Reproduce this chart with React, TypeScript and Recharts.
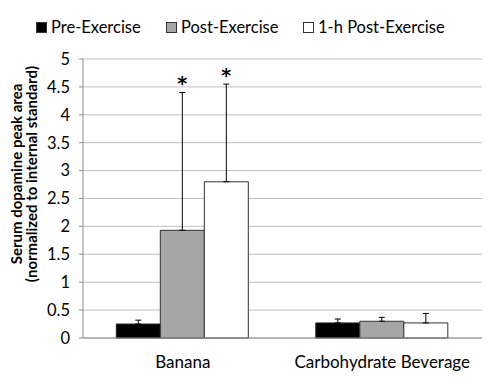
import { Bar, BarChart, CartesianGrid, ErrorBar, Legend, Rectangle, XAxis, YAxis } from "recharts";

const groups = ["Banana", "Carbohydrate Beverage"];
const seriesNames = ["Pre-Exercise", "Post-Exercise", "1-h Post-Exercise"];
const preValues = [0.25, 0.27];
const preErrors = [0.07, 0.07];
const postValues = [1.93, 0.3];
const postErrors = [2.47, 0.07];
const post1hValues = [2.8, 0.27];
const post1hErrors = [1.75, 0.17];
const preStars = ["", ""];
const postStars = ["*", ""];
const post1hStars = ["*", ""];
const yTicks = [0, 0.5, 1, 1.5, 2, 2.5, 3, 3.5, 4, 4.5, 5];

const fills = ["#000000", "#a6a6a6", "#ffffff"];
const legendLeft = [36, 166, 303];
const font = "Lato, 'Open Sans', sans-serif";

const data = groups.map((name, i) => ({
  name,
  pre: preValues[i],
  preErr: [0, preErrors[i]],
  post: postValues[i],
  postErr: [0, postErrors[i]],
  post1h: post1hValues[i],
  post1hErr: [0, post1hErrors[i]],
  preStar: preStars[i],
  postStar: postStars[i],
  post1hStar: post1hStars[i],
  edge: i
}));

// bar with an optional asterisk above the top of its error bar
function starShape(valueKey: string, errKey: string, starKey: string) {
  return (props: any) => {
    const { x, y, width, height, fill, stroke, payload } = props;
    const value = payload[valueKey];
    const err = payload[errKey][1];
    const star = payload[starKey];
    const errTop = value > 0 ? y - (err * height) / value : y;
    return (
      <g>
        <Rectangle x={x} y={y} width={width} height={height} fill={fill} stroke={stroke} strokeWidth={1} />
        {star ? (
          <text
            x={x + width / 2}
            y={errTop - 2}
            textAnchor="middle"
            fontSize={19}
            fontWeight={700}
            fontFamily="'DejaVu Sans', sans-serif"
            fill="#000"
          >
            {star}
          </text>
        ) : null}
      </g>
    );
  };
}

function LegendContent() {
  return (
    <div style={{ position: "relative", fontFamily: font, fontSize: 16.5, color: "#000", height: 20, width: 490 }}>
      {seriesNames.map((name, i) => (
        <div
          key={name}
          style={{ position: "absolute", left: legendLeft[i], top: 0, height: 20, display: "flex", alignItems: "center" }}
        >
          <span
            style={{
              display: "inline-block",
              width: 9,
              height: 9,
              background: fills[i],
              border: "1px solid #333",
              marginRight: 4
            }}
          />
          <span style={{ whiteSpace: "nowrap" }}>{name}</span>
        </div>
      ))}
    </div>
  );
}

function YLabel() {
  return (
    <text transform="translate(27,174) rotate(-90)" textAnchor="middle" fontFamily={font} fontSize={15} fontWeight={700} fill="#000">
      <tspan x={0} dy={-5}>Serum dopamine peak area</tspan>
      <tspan x={0} dy={15}>(normalized to internal standard)</tspan>
    </text>
  );
}

export default function App() {
  return (
    <div style={{ position: "absolute", left: 0, top: 0, width: 490, height: 384, background: "#fff" }}>
      <BarChart
        width={490}
        height={384}
        data={data}
        margin={{ top: 39, right: 8, left: 0, bottom: 0 }}
        barCategoryGap="16.7%"
        barGap={0}
      >
        <CartesianGrid horizontal vertical={false} stroke="#c0c0c0" strokeWidth={1} />
        <XAxis
          dataKey="name"
          xAxisId="cat"
          axisLine={{ stroke: "#8c8c8c" }}
          tickLine={false}
          tick={{ fill: "#000", fontSize: 17, fontFamily: font }}
          tickMargin={12}
          height={46}
          interval={0}
        />
        <XAxis
          dataKey="edge"
          xAxisId="edge"
          type="number"
          domain={[0, 2]}
          ticks={[0, 1, 2]}
          axisLine={false}
          tick={false}
          tickLine={{ stroke: "#8c8c8c" }}
          tickSize={5}
          height={0}
        />
        <YAxis
          domain={[0, 5]}
          ticks={yTicks}
          width={83}
          axisLine={{ stroke: "#8c8c8c" }}
          tickLine={{ stroke: "#8c8c8c" }}
          tickSize={4}
          tickMargin={9}
          tick={{ fill: "#000", fontSize: 16.5, fontFamily: font }}
          label={{ content: <YLabel /> }}
        />
        <Legend verticalAlign="top" align="left" content={<LegendContent />} wrapperStyle={{ top: 17, left: 0 }} />
        <Bar xAxisId="cat" dataKey="pre" name={seriesNames[0]} fill={fills[0]} stroke="#222" isAnimationActive={false} shape={starShape("pre", "preErr", "preStar")}>
          <ErrorBar dataKey="preErr" width={3} stroke="#000" strokeWidth={1} direction="y" />
        </Bar>
        <Bar xAxisId="cat" dataKey="post" name={seriesNames[1]} fill={fills[1]} stroke="#333" isAnimationActive={false} shape={starShape("post", "postErr", "postStar")}>
          <ErrorBar dataKey="postErr" width={3} stroke="#000" strokeWidth={1} direction="y" />
        </Bar>
        <Bar xAxisId="cat" dataKey="post1h" name={seriesNames[2]} fill={fills[2]} stroke="#333" isAnimationActive={false} shape={starShape("post1h", "post1hErr", "post1hStar")}>
          <ErrorBar dataKey="post1hErr" width={3} stroke="#000" strokeWidth={1} direction="y" />
        </Bar>
      </BarChart>
    </div>
  );
}
